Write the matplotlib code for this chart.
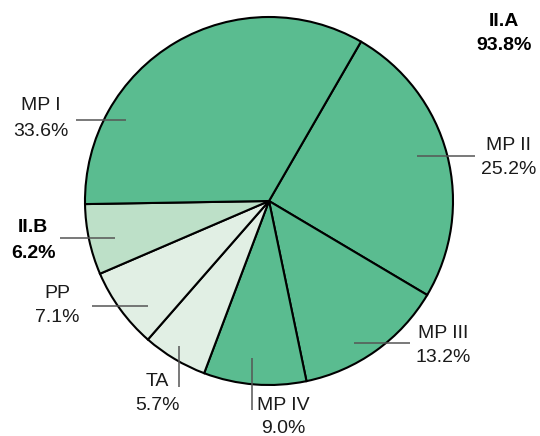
import matplotlib
matplotlib.use("Agg")
import matplotlib.pyplot as plt

plt.rcParams['font.family'] = ['Liberation Sans', 'DejaVu Sans']

# slices, clockwise from the MP I / MP II border
labels = ['MP II', 'MP III', 'MP IV', 'TA', 'PP', 'II.B', 'MP I']
values = [25.2, 13.2, 9.0, 5.7, 7.1, 6.2, 33.6]
colors = ['#5abc90', '#5abc90', '#5abc90', '#e1efe4', '#e1efe4', '#bde0c8', '#5abc90']

group_labels = ['II.A', 'II.B']
group_values = [93.8, 6.2]

W, H = 540, 436
def Y(py):
    # picture rows count from the top
    return H - py

fig = plt.figure(figsize=(W / 100, H / 100), dpi=100)
ax = fig.add_axes([0, 0, 1, 1])
ax.pie(values, colors=colors, startangle=60, counterclock=False,
       center=(269, Y(201)), radius=184,
       wedgeprops=dict(edgecolor='black', linewidth=1.5))
ax.set_xlim(0, W)
ax.set_ylim(0, H)
ax.axis('off')

# label layout: text centre x, first/second line y, leader line
layout = {
    'MP I':   (41, 105, 131, [(76, 120), (126, 120)]),
    'MP II':  (509, 145, 169, [(417, 156), (475, 156)]),
    'MP III': (443, 333, 357, [(354, 343), (410, 343)]),
    'MP IV':  (283, 405, 428, [(252, 358), (252, 410)]),
    'TA':     (157, 381, 405, [(179, 346), (179, 387)]),
    'PP':     (57, 294, 317, [(92, 306), (148, 306)]),
}
for lab, val in zip(labels, values):
    if lab not in layout:
        continue
    x, y1, y2, line = layout[lab]
    ax.plot([line[0][0], line[1][0]], [Y(line[0][1]), Y(line[1][1])],
            color='#555555', lw=1.1, solid_capstyle='butt')
    ax.text(x, Y(y1), lab, ha='center', va='center', fontsize=14, color='#1a1a1a')
    ax.text(x, Y(y2), f'{val:.1f}%', ha='center', va='center', fontsize=14, color='#1a1a1a')

# group totals in bold
ax.plot([60, 115], [Y(238), Y(238)], color='#555555', lw=1.1, solid_capstyle='butt')
group_layout = {'II.A': (504, 22, 46), 'II.B': (33, 228, 253)}
for lab, val in zip(group_labels, group_values):
    x, y1, y2 = group_layout[lab]
    ax.text(x, Y(y1), lab, ha='center', va='center', fontsize=14, fontweight='bold')
    ax.text(x, Y(y2), f'{val:.1f}%', ha='center', va='center', fontsize=14, fontweight='bold')

fig.savefig('out.png', dpi=100)
